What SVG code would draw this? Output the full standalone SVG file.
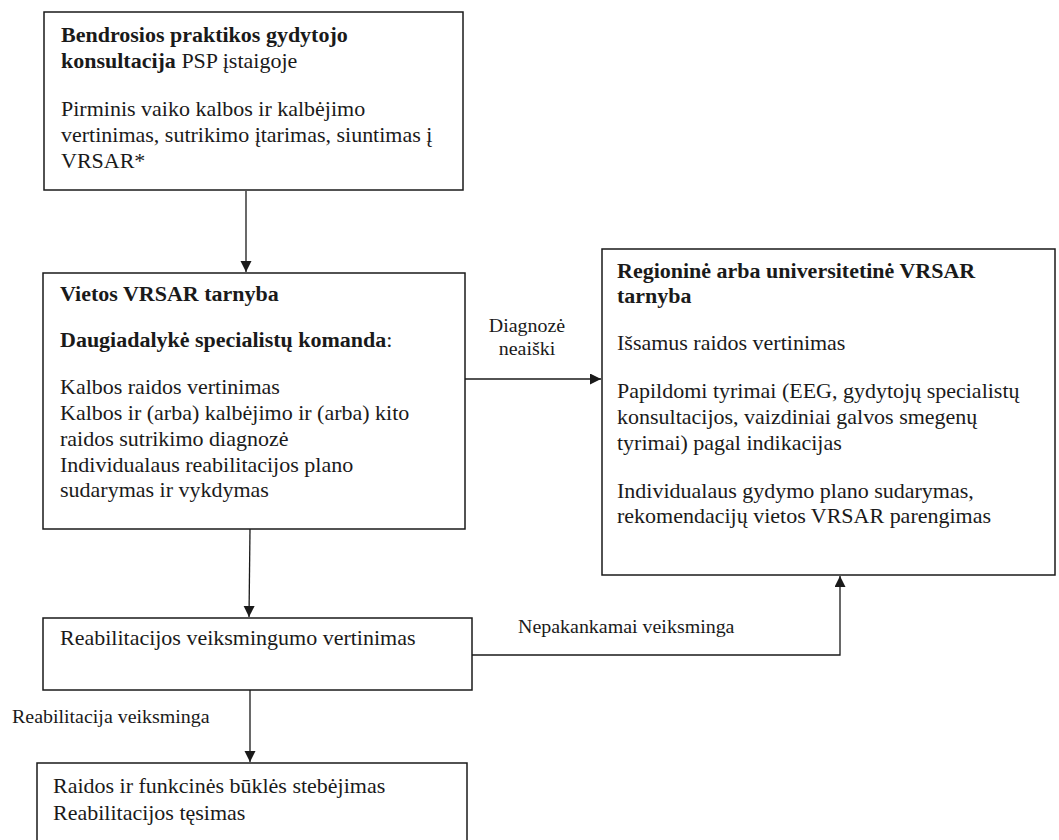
<svg xmlns="http://www.w3.org/2000/svg" width="1059" height="840" viewBox="0 0 1059 840">
<style>
  .box { fill: #ffffff; stroke: #1a1a1a; stroke-width: 1.5; }
  .t { font-family: 'Liberation Serif', Tinos, 'Times New Roman', Times, 'DejaVu Serif', serif; font-size: 20px; fill: #1a1a1a; }
  .b { font-weight: bold; }
  .lbl { font-family: 'Liberation Serif', Tinos, 'Times New Roman', Times, 'DejaVu Serif', serif; font-size: 19px; fill: #1a1a1a; }
  .conn { fill: none; stroke: #1a1a1a; stroke-width: 1.3; }
</style>
<defs>
  <marker id="arrow" markerUnits="userSpaceOnUse" markerWidth="12" markerHeight="12" refX="11" refY="5.5" orient="auto">
    <path d="M0,0 L11,5.5 L0,11 z" fill="#1a1a1a"/>
  </marker>
</defs>
<rect width="1059" height="840" fill="#ffffff"/>

<g id="connectors">
  <line class="conn" x1="246" y1="191" x2="246" y2="272" marker-end="url(#arrow)"/>
  <line class="conn" x1="465" y1="379" x2="601" y2="379" marker-end="url(#arrow)"/>
  <line class="conn" x1="250" y1="529" x2="249" y2="617" marker-end="url(#arrow)"/>
  <line class="conn" x1="250" y1="690" x2="250" y2="762" marker-end="url(#arrow)"/>
  <path class="conn" d="M472,655 H840 V576" marker-end="url(#arrow)"/>
  <g transform="translate(527 0) scale(1.05 1)">
    <text class="lbl" x="0" y="332" text-anchor="middle">Diagnozė</text>
    <text class="lbl" x="0" y="355" text-anchor="middle">neaiški</text>
  </g>
  <g transform="translate(518 0) scale(1.05 1)">
    <text class="lbl" x="0" y="633">Nepakankamai veiksminga</text>
  </g>
  <g transform="translate(12 0) scale(1.05 1)">
    <text class="lbl" x="0" y="723">Reabilitacija veiksminga</text>
  </g>
</g>

<g id="node-gp">
  <rect class="box" x="44" y="12" width="419" height="178"/>
  <g transform="translate(61 0) scale(1.1 1)">
    <text class="t b" x="0" y="42">Bendrosios praktikos gydytojo</text>
    <text class="t" x="0" y="68"><tspan class="b">konsultacija</tspan> PSP įstaigoje</text>
    <text class="t" x="0" y="116">Pirminis vaiko kalbos ir kalbėjimo</text>
    <text class="t" x="0" y="142">vertinimas, sutrikimo įtarimas, siuntimas į</text>
    <text class="t" x="0" y="168">VRSAR*</text>
  </g>
</g>

<g id="node-local">
  <rect class="box" x="43" y="273" width="422" height="256"/>
  <g transform="translate(60 0) scale(1.1 1)">
    <text class="t b" x="0" y="301">Vietos VRSAR tarnyba</text>
    <text class="t" x="0" y="347"><tspan class="b">Daugiadalykė specialistų komanda</tspan>:</text>
    <text class="t" x="0" y="394">Kalbos raidos vertinimas</text>
    <text class="t" x="0" y="420">Kalbos ir (arba) kalbėjimo ir (arba) kito</text>
    <text class="t" x="0" y="446">raidos sutrikimo diagnozė</text>
    <text class="t" x="0" y="472">Individualaus reabilitacijos plano</text>
    <text class="t" x="0" y="497">sudarymas ir vykdymas</text>
  </g>
</g>

<g id="node-regional">
  <rect class="box" x="602" y="249" width="453" height="326"/>
  <g transform="translate(617 0) scale(1.1 1)">
    <text class="t b" x="0" y="278">Regioninė arba universitetinė VRSAR</text>
    <text class="t b" x="0" y="303">tarnyba</text>
    <text class="t" x="0" y="350">Išsamus raidos vertinimas</text>
    <text class="t" x="0" y="398">Papildomi tyrimai (EEG, gydytojų specialistų</text>
    <text class="t" x="0" y="424">konsultacijos, vaizdiniai galvos smegenų</text>
    <text class="t" x="0" y="450">tyrimai) pagal indikacijas</text>
    <text class="t" x="0" y="498">Individualaus gydymo plano sudarymas,</text>
    <text class="t" x="0" y="523">rekomendacijų vietos VRSAR parengimas</text>
  </g>
</g>

<g id="node-eval">
  <rect class="box" x="43" y="618" width="429" height="72"/>
  <g transform="translate(60 0) scale(1.1 1)">
    <text class="t" x="0" y="645">Reabilitacijos veiksmingumo vertinimas</text>
  </g>
</g>

<g id="node-monitor">
  <rect class="box" x="37" y="763" width="430" height="90"/>
  <g transform="translate(53 0) scale(1.1 1)">
    <text class="t" x="0" y="793">Raidos ir funkcinės būklės stebėjimas</text>
    <text class="t" x="0" y="820">Reabilitacijos tęsimas</text>
  </g>
</g>
</svg>
